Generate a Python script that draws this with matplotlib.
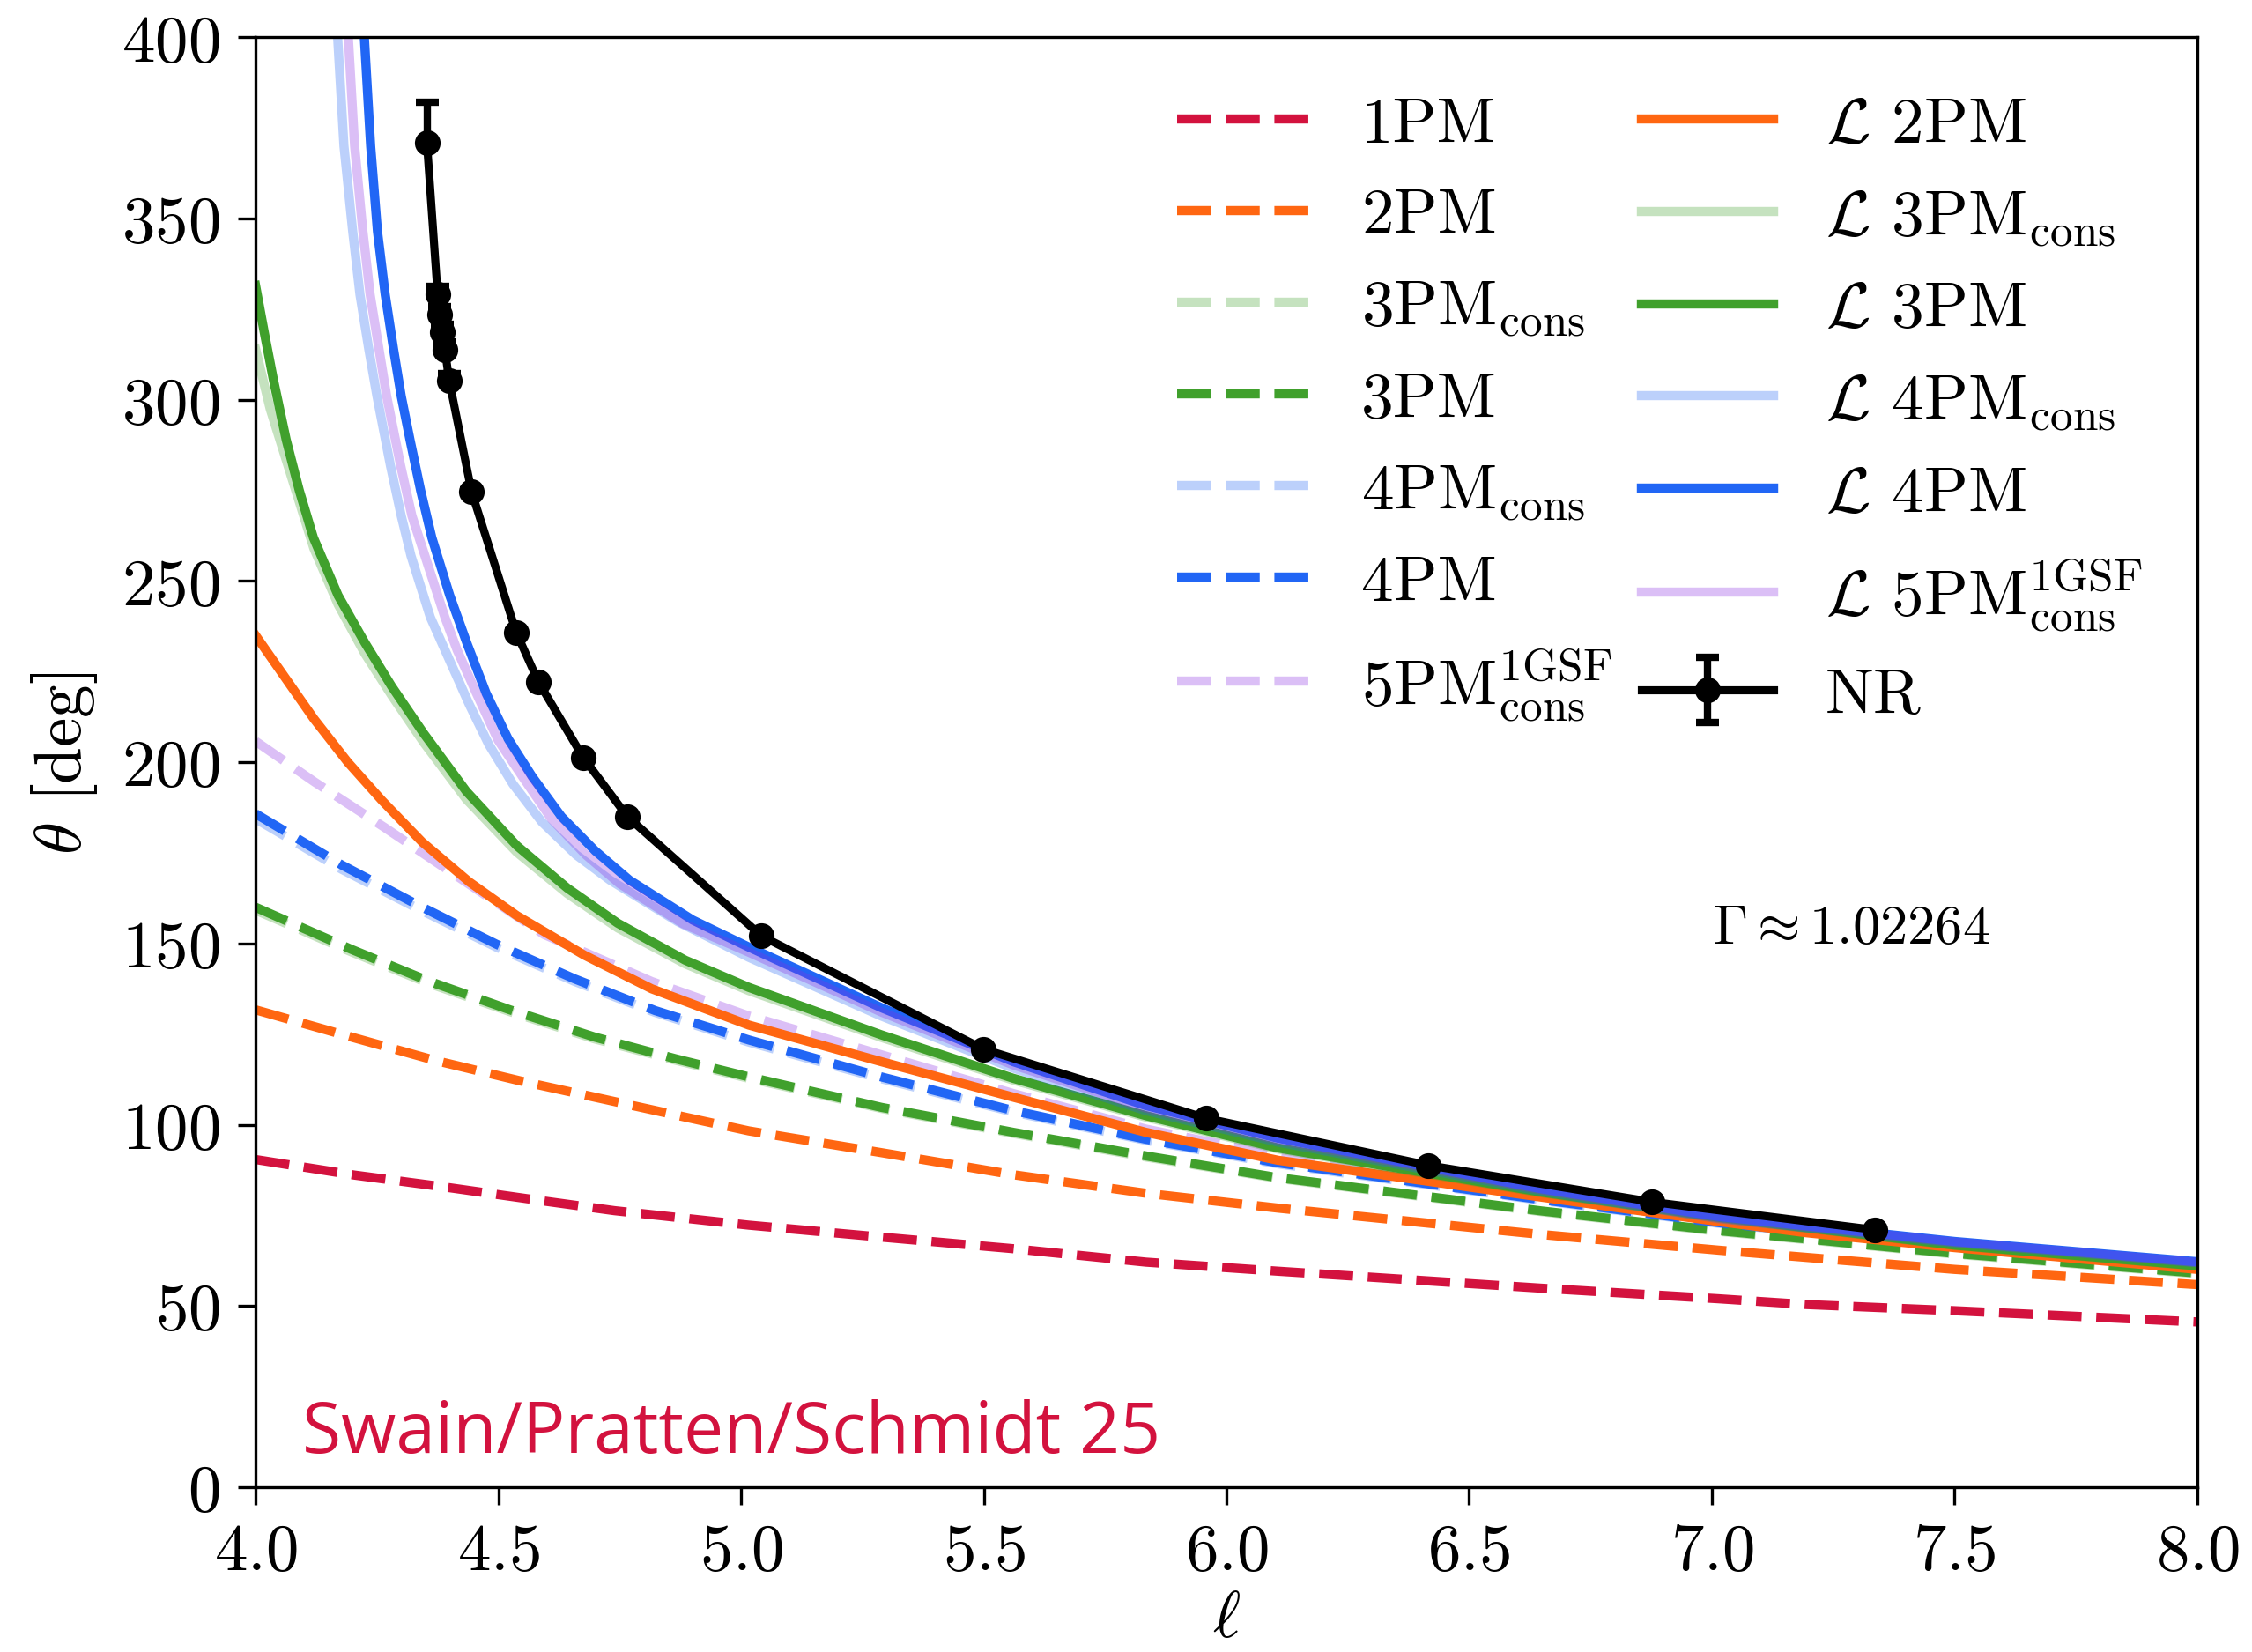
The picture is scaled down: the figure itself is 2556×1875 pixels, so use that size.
import matplotlib
matplotlib.use("Agg")
import matplotlib.pyplot as plt

plt.rcParams.update({
    'font.family': 'serif',
    'font.serif': ['cmr10'],
    'mathtext.fontset': 'cm',
    'axes.unicode_minus': False,
    'axes.formatter.use_mathtext': True,
    'font.size': 18,
})

##
##  P M   a n d   E O B - l i k e   s c a t t e r i n g   a n g l e s
##
l_1pm = [4.0, 4.204, 4.385, 4.559, 4.739, 5.016, 5.289, 5.561, 5.834, 6.106, 6.650, 7.013, 7.195, 7.5, 8.0]
t_1pm = [90.4, 86.1, 82.9, 79.6, 76.3, 72.3, 69.0, 65.8, 62.1, 59.6, 54.9, 52.0, 50.4, 48.7, 45.6]

l_2pm = [4.0, 4.197, 4.371, 4.545, 4.719, 4.892, 5.016, 5.289, 5.561, 5.834, 6.106, 6.650, 7.013, 7.195, 7.5, 8.0]
t_2pm = [131.7, 124.2, 117.7, 112.1, 107.0, 101.9, 98.3, 92.3, 86.2, 81.1, 77.0, 69.7, 65.4, 63.4, 60.1, 55.9]

l_3pm = [4.0, 4.197, 4.357, 4.524, 4.698, 4.865, 5.016, 5.289, 5.561, 5.834, 6.106, 6.650, 7.013, 7.195, 7.5, 8.0]
t_3pm = [160.0, 148.4, 139.6, 131.7, 124.2, 118.2, 113.2, 104.8, 97.9, 91.4, 85.4, 76.2, 70.8, 68.5, 64.5, 59.1]
t_3pm_cons = [159.2, 147.7, 139.0, 131.2, 123.7, 117.8, 112.8, 104.5, 97.6, 91.1, 85.2, 76.0, 70.6, 68.3, 64.3, 58.9]

l_4pm = [4.0, 4.177, 4.336, 4.496, 4.656, 4.823, 5.016, 5.289, 5.561, 5.834, 6.106, 6.650, 7.013, 7.5, 8.0]
t_4pm = [185.8, 171.7, 160.5, 149.8, 140.3, 131.5, 123.4, 113.2, 103.9, 96.0, 89.5, 79.3, 73.0, 66.4, 60.6]
t_4pm_cons = [184.4, 170.5, 159.5, 149.0, 139.6, 131.0, 122.8, 112.7, 103.5, 95.7, 89.2, 79.1, 72.8, 66.3, 60.5]

l_5pm = [4.0, 4.121, 4.267, 4.427, 4.594, 4.816, 5.016, 5.289, 5.561, 5.834, 6.106, 6.650, 7.013, 7.5, 8.0]
t_5pm = [205.8, 194.6, 181.9, 167.5, 152.5, 139.5, 130.0, 119.3, 108.6, 98.8, 91.4, 80.4, 73.7, 66.6, 60.8]

l_L2 = [4.0, 4.06, 4.12, 4.19, 4.26, 4.343, 4.44, 4.538, 4.677, 4.816, 5.016, 5.289, 5.561, 5.834, 6.106, 6.650, 7.013, 7.195, 7.5, 8.0]
t_L2 = [235.0, 223.5, 212.0, 200.0, 189.5, 178.0, 167.0, 157.7, 146.8, 137.5, 127.5, 117.4, 107.6, 97.9, 90.2, 80.0, 73.3, 70.2, 66.1, 60.1]

l_L3 = [4.0, 4.018, 4.036, 4.063, 4.09, 4.119, 4.17, 4.225, 4.28, 4.346, 4.434, 4.538, 4.642, 4.746, 4.885, 5.016,
        5.289, 5.561, 5.834, 6.106, 6.650, 7.013, 7.5, 8.0]
t_L3 = [331.5, 318.5, 306.0, 289.0, 275.0, 262.0, 246.0, 233.0, 221.0, 208.0, 192.0, 177.0, 165.3, 155.6, 145.4, 137.9,
        124.8, 112.8, 102.5, 93.6, 81.4, 74.5, 66.8, 61.1]

l_L3c = [4.0, 4.03, 4.067, 4.12, 4.17, 4.225, 4.28, 4.346, 4.434, 4.538, 4.642, 4.746, 4.885, 5.016,
         5.289, 5.561, 5.834, 6.106, 6.650, 7.013, 7.5, 8.0]
t_L3c = [314.0, 297.5, 281.7, 259.0, 243.5, 230.0, 218.5, 205.5, 189.8, 175.2, 163.8, 154.3, 144.4, 137.0,
         124.1, 112.3, 102.1, 93.3, 81.2, 74.3, 66.7, 61.0]

l_L4c = [4.169, 4.182, 4.200, 4.215, 4.233, 4.25, 4.278, 4.30, 4.32, 4.36, 4.40, 4.44, 4.48, 4.53, 4.59, 4.66, 4.73,
         4.87, 5.016, 5.289, 5.561, 5.834, 6.106, 6.650, 7.013, 7.5, 8.0]
t_L4c = [400.0, 370.0, 346.5, 329.0, 314.1, 301.0, 281.7, 268.0, 257.0, 240.0, 228.0, 216.0, 205.0, 194.0, 183.5, 174.5, 167.5,
         156.0, 146.2, 130.0, 115.6, 103.9, 95.2, 81.6, 74.1, 67.4, 61.9]

l_L4 = [4.224, 4.237, 4.251, 4.267, 4.284, 4.30, 4.318, 4.34, 4.363, 4.40, 4.436, 4.475, 4.52, 4.57, 4.63, 4.70, 4.77,
        4.90, 5.016, 5.289, 5.561, 5.834, 6.106, 6.650, 7.013, 7.195, 7.5, 8.0]
t_L4 = [400.0, 370.0, 346.5, 329.0, 314.1, 301.0, 289.0, 275.0, 262.0, 246.0, 232.6, 219.0, 206.5, 196.0, 185.0, 175.5, 167.5,
        156.5, 149.0, 132.3, 117.4, 105.3, 96.3, 82.3, 74.7, 72.1, 67.8, 62.2]

l_L5 = [4.191, 4.204, 4.221, 4.236, 4.254, 4.27, 4.299, 4.322, 4.39, 4.415, 4.455, 4.50, 4.55, 4.61, 4.68, 4.75,
        4.88, 5.016, 5.289, 5.561, 5.834, 6.106, 6.650, 7.013, 7.5, 8.0]
t_L5 = [400.0, 370.0, 346.5, 329.0, 314.1, 301.0, 281.7, 268.0, 240.0, 231.0, 219.0, 206.0, 196.0, 184.3, 174.5, 166.5,
        155.5, 147.6, 131.1, 116.5, 104.6, 95.8, 82.0, 74.4, 67.6, 62.0]

##  N R   r u n s  (upper error only)
l_nr = [4.353, 4.375, 4.380, 4.384, 4.390, 4.399, 4.445, 4.537, 4.583, 4.675, 4.766,
        5.042, 5.499, 5.958, 6.416, 6.877, 7.336]
t_nr = [370.9, 329.1, 323.5, 318.6, 313.7, 305.2, 274.6, 235.8, 222.1, 201.3, 185.0,
        152.1, 120.9, 101.8, 88.8, 78.7, 71.0]
e_up = [11.3, 2.2, 2.2, 2.2, 2.2, 2.0, 0.5, 0.4, 0.3, 0.3, 0.2,
        0.2, 0.1, 0.1, 0.1, 0.1, 0.1]
e_lo = [0.0] * len(e_up)

c_1pm = '#d3123e'
c_or = '#ff6611'
c_gr = '#40a02c'
c_bl = '#2166f5'
c_pu = '#8a2be2'
lw = 2.5

fig = plt.figure(figsize=(8.52, 6.2533), dpi=300)
ax = fig.add_axes([0.1135, 0.0997, 0.9757 - 0.1135, 0.9769 - 0.0997])

ax.plot(l_1pm, t_1pm, ls='--', lw=lw, color=c_1pm, label='1PM')
ax.plot(l_2pm, t_2pm, ls='--', lw=lw, color=c_or, label='2PM')
ax.plot(l_3pm, t_3pm_cons, ls='--', lw=lw, color=c_gr, alpha=0.3, label=r'3PM$_{\rm cons}$')
ax.plot(l_3pm, t_3pm, ls='--', lw=lw, color=c_gr, label='3PM')
ax.plot(l_4pm, t_4pm_cons, ls='--', lw=lw, color=c_bl, alpha=0.3, label=r'4PM$_{\rm cons}$')
ax.plot(l_4pm, t_4pm, ls='--', lw=lw, color=c_bl, label='4PM')
ax.plot(l_5pm, t_5pm, ls='--', lw=lw, color=c_pu, alpha=0.3, label=r'5PM$^{\rm 1GSF}_{\rm cons}$')

ax.plot(l_L2, t_L2, lw=lw, color=c_or, label=r'$\mathcal{L}$ 2PM')
ax.plot(l_L3c, t_L3c, lw=lw, color=c_gr, alpha=0.3, label=r'$\mathcal{L}$ 3PM$_{\rm cons}$')
ax.plot(l_L3, t_L3, lw=lw, color=c_gr, label=r'$\mathcal{L}$ 3PM')
ax.plot(l_L4c, t_L4c, lw=lw, color=c_bl, alpha=0.3, label=r'$\mathcal{L}$ 4PM$_{\rm cons}$')
ax.plot(l_L4, t_L4, lw=lw, color=c_bl, label=r'$\mathcal{L}$ 4PM')
ax.plot(l_L5, t_L5, lw=lw, color=c_pu, alpha=0.3, label=r'$\mathcal{L}$ 5PM$^{\rm 1GSF}_{\rm cons}$')

ax.errorbar(l_nr, t_nr, yerr=[e_lo, e_up], color='k', lw=2.2, marker='o', ms=6,
            capsize=3.2, capthick=2, elinewidth=2, label='NR')

ax.set_xlim(4.0, 8.0)
ax.set_ylim(0, 400)
ax.set_xticks([4.0, 4.5, 5.0, 5.5, 6.0, 6.5, 7.0, 7.5, 8.0])
ax.set_yticks(range(0, 401, 50))
ax.tick_params(direction='out', length=4.7, width=0.8, labelsize=18, pad=5)

ax.set_xlabel(r'$\ell$', fontsize=18, labelpad=2)
ax.set_ylabel(r'$\theta$ [deg]', fontsize=18, labelpad=6)

ax.text(0.822, 0.385, r'$\Gamma \approx 1.02264$', transform=ax.transAxes,
        fontsize=15, ha='center', va='center')
ax.text(0.024, 0.024, 'Swain/Pratten/Schmidt 25', transform=ax.transAxes,
        fontsize=19.3, color=c_1pm, family='Open Sans', ha='left', va='baseline')

ax.legend(loc='upper right', bbox_to_anchor=(0.985, 0.977), borderaxespad=0,
          ncol=2, frameon=False, fontsize=17.6,
          handlelength=2.05, handletextpad=0.8, columnspacing=0.45,
          labelspacing=0.52)

fig.savefig('out.png', dpi=300)
plt.close(fig)
